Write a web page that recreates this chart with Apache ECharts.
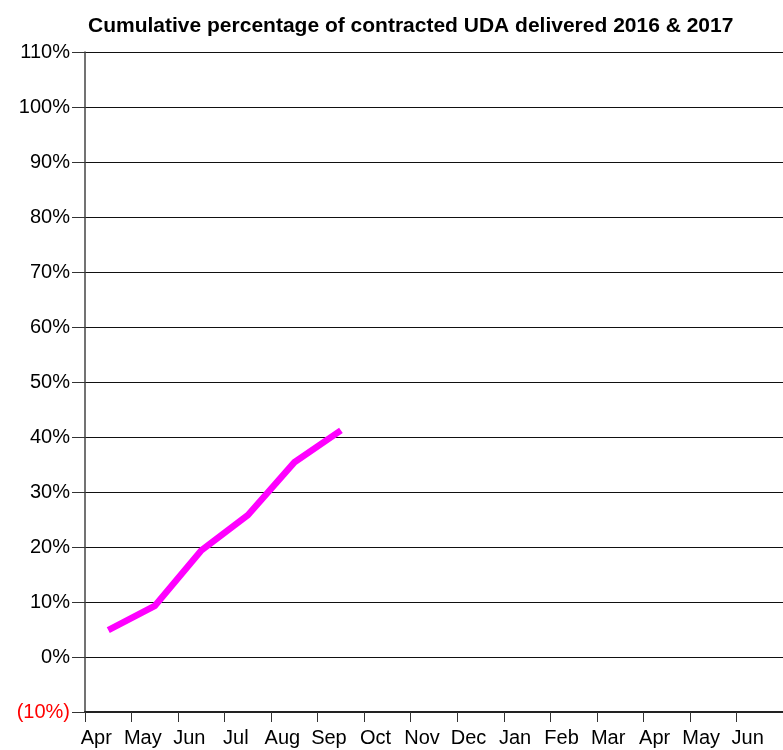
<!DOCTYPE html>
<html>
<head>
    <meta charset="utf-8">
    <title>Cumulative UDA</title>
    <script src="https://cdn.jsdelivr.net/npm/echarts@6/dist/echarts.min.js"></script>
    <style>
        html, body { margin: 0; padding: 0; background: #fff; }
        #chart { width: 783px; height: 750px; }
    </style>
</head>
<body>
    <div id="chart"></div>
<script type="text/javascript">
    // months Apr 2016 .. Jun 2017
    var months = ['Apr', 'May', 'Jun', 'Jul', 'Aug', 'Sep', 'Oct', 'Nov', 'Dec', 'Jan', 'Feb', 'Mar', 'Apr', 'May', 'Jun'];
    // cumulative % delivered (only to Sep so far)
    var delivered = [4.9, 9.3, 19.4, 25.8, 35.4, 41.2];

    var myChart = echarts.init(document.getElementById('chart'));
    myChart.setOption({
        animation: false,
        title: {
            text: 'Cumulative percentage of contracted UDA delivered 2016 & 2017',
            left: 83,
            top: 11,
            textStyle: { fontFamily: 'Liberation Sans', fontWeight: 'bold', fontSize: 21, color: '#000' }
        },
        grid: { left: 85, right: 0, top: 52, bottom: 38 },
        xAxis: {
            type: 'category',
            data: months,
            boundaryGap: true,
            axisLine: { onZero: false, lineStyle: { color: '#222', width: 2 } },
            axisTick: { show: true, length: 10, lineStyle: { color: '#333' } },
            axisLabel: {
                interval: 0,
                margin: 16,
                padding: [0, 24, 0, 0],
                fontFamily: 'Liberation Sans',
                fontSize: 20,
                color: '#000'
            }
        },
        yAxis: {
            type: 'value',
            min: -10,
            max: 110,
            interval: 10,
            axisLine: { show: true, lineStyle: { color: '#444', width: 1.5 } },
            axisTick: { show: true, length: 13, lineStyle: { color: '#333' } },
            splitLine: { lineStyle: { color: '#111', width: 1 } },
            axisLabel: {
                margin: 15,
                fontFamily: 'Liberation Sans',
                fontSize: 20,
                color: '#000',
                formatter: function (v) {
                    if (v < 0) return '{neg|(' + Math.abs(v) + '%)}';
                    return v + '%';
                },
                rich: {
                    neg: { color: '#ff0000', fontFamily: 'Liberation Sans', fontSize: 20 }
                }
            }
        },
        series: [{
            type: 'line',
            data: delivered,
            symbol: 'none',
            lineStyle: { color: '#ff00ff', width: 6.5, join: 'miter' }
        }]
    });
</script>
</body>
</html>
